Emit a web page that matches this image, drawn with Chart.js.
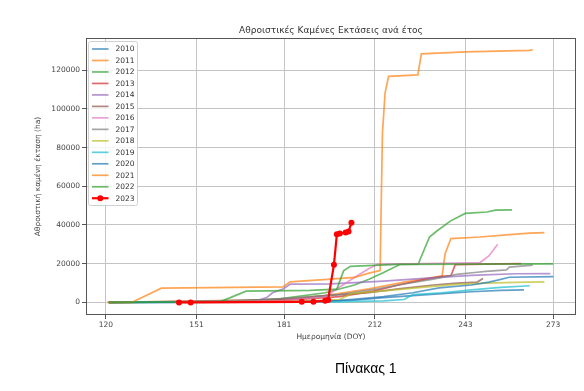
<!DOCTYPE html>
<html>
<head>
<meta charset="utf-8">
<title>Αθροιστικές Καμένες Εκτάσεις ανά έτος</title>
<script src="https://cdn.jsdelivr.net/npm/chart.js"></script>
<style>
  body { margin: 0; background: #fff; }
  #wrap { position: relative; width: 584px; height: 391px; }
  #caption {
    position: absolute; left: 335px; top: 360px;
    font: 14px "Liberation Sans", Arial, sans-serif; color: #000;
  }
</style>
</head>
<body>
<div id="wrap">
  <canvas id="fires" width="584" height="391"></canvas>
  <div id="caption">Πίνακας 1</div>
</div>

<script>
  const chartTitle = 'Αθροιστικές Καμένες Εκτάσεις ανά έτος';
  const xTitle = 'Ημερομηνία (DOY)';
  const yTitle = 'Αθροιστική καμένη έκταση (ha)';

  const years = ['2010', '2011', '2012', '2013', '2014', '2015', '2016',
                 '2017', '2018', '2019', '2020', '2021', '2022', '2023'];
  const xTicks = [120, 151, 181, 212, 243, 273];
  const yTicks = [0, 20000, 40000, 60000, 80000, 100000, 120000];

  // day of year / cumulative burned area (ha)
  const doy2010 = [121, 170, 190, 205, 215, 225, 235, 245, 255, 263];
  const ha2010  = [0, 200, 600, 1200, 2500, 3500, 4500, 5500, 6200, 6500];
  const doy2011 = [121, 180, 195, 210, 222, 232, 235, 236, 238, 248, 258, 265, 270];
  const ha2011  = [0, 1500, 3500, 7000, 10500, 13000, 13700, 25000, 33000, 33800, 35000, 35800, 36100];
  const doy2012 = [121, 165, 180, 195, 205, 210, 215, 220.7, 226.9, 227.5, 230.7, 233.2, 237.8, 242.9, 250.4, 253.2, 258.9];
  const ha2012  = [0, 500, 2000, 5000, 9000, 12000, 15500, 19700, 19800, 22300, 33800, 36900, 42000, 46000, 46700, 47700, 47800];
  const doy2013 = [121, 175, 190, 200, 212, 220, 228, 235, 238, 239.5, 250, 262];
  const ha2013  = [0, 500, 2000, 3000, 6000, 9000, 11500, 13500, 13800, 19500, 19800, 20000];
  const doy2014 = [121, 170, 175, 177, 180.6, 183, 197, 215, 230, 245, 260, 272];
  const ha2014  = [0, 200, 2500, 5000, 6900, 9400, 9600, 11000, 12500, 14000, 14800, 14900];
  const doy2015 = [121, 160, 185, 195, 210, 220, 232, 240, 247, 249];
  const ha2015  = [0, 500, 2000, 3500, 5000, 7000, 9000, 10000, 10500, 12400];
  const doy2016 = [121, 180, 195, 200, 205, 210, 213, 235, 248, 251, 254];
  const ha2016  = [0, 1000, 3000, 8000, 12900, 17500, 19700, 20200, 20600, 24000, 30000];
  const doy2017 = [121, 150, 175, 190, 200, 213, 222, 232, 240, 247, 250, 257, 258, 266];
  const ha2017  = [0, 500, 1500, 3000, 4000, 7000, 9500, 12000, 14500, 15600, 16000, 16800, 18200, 19300];
  const doy2018 = [121, 185, 200, 204, 215, 230, 240, 250, 260, 270];
  const ha2018  = [0, 500, 1500, 4500, 6000, 8000, 9300, 10000, 10400, 10600];
  const doy2019 = [121, 200, 215, 222, 225, 235, 245, 255, 265];
  const ha2019  = [0, 300, 800, 1500, 4000, 5000, 6500, 7800, 8600];
  const doy2020 = [121, 185, 200, 215, 225, 234, 245, 251, 254, 258, 273];
  const ha2020  = [0, 300, 1000, 3000, 5000, 7500, 9000, 10500, 11500, 13000, 13300];
  const doy2021 = [120.5, 128.8, 139, 180.5, 183, 197, 205, 210, 213.8, 214.2, 214.6, 215.5, 216.7, 226.7, 227.9, 243, 265, 266];
  const ha2021  = [0, 0, 7370, 8000, 10600, 12000, 12900, 15100, 16500, 53000, 87600, 108300, 116800, 117500, 128400, 129400, 130200, 130600];
  const doy2022 = [121, 159, 168, 190, 199, 201.3, 203.6, 219.6, 273];
  const ha2022  = [0, 300, 5800, 6200, 6900, 16300, 18600, 19700, 19900];
  const doy2023 = [145, 149, 187, 191, 195, 196, 198, 199, 200, 202, 203, 204];
  const ha2023  = [0, 0, 300, 400, 800, 1300, 19400, 35200, 35600, 36100, 36600, 41200];

  const series = [
    [doy2010, ha2010], [doy2011, ha2011], [doy2012, ha2012], [doy2013, ha2013],
    [doy2014, ha2014], [doy2015, ha2015], [doy2016, ha2016], [doy2017, ha2017],
    [doy2018, ha2018], [doy2019, ha2019], [doy2020, ha2020], [doy2021, ha2021],
    [doy2022, ha2022], [doy2023, ha2023]
  ];

  // matplotlib tab10 cycle, faded like in the picture
  const palette = ['rgba(31,119,180,0.7)', 'rgba(255,127,14,0.7)', 'rgba(44,160,44,0.7)',
                   'rgba(214,39,40,0.7)', 'rgba(148,103,189,0.7)', 'rgba(140,86,75,0.7)',
                   'rgba(227,119,194,0.7)', 'rgba(127,127,127,0.7)', 'rgba(188,189,34,0.7)',
                   'rgba(23,190,207,0.7)'];

  const datasets = years.map((yr, i) => {
    const last = i === years.length - 1;
    const [xs, ys] = series[i];
    return {
      label: yr,
      data: xs.map((d, k) => ({ x: d, y: ys[k] })),
      borderColor: last ? '#ff0000' : palette[i % palette.length],
      backgroundColor: last ? '#ff0000' : palette[i % palette.length],
      borderWidth: last ? 2.2 : 1.7,
      pointRadius: last ? 3 : 0,
      pointBorderWidth: 0,
      tension: 0,
      order: years.length - i   // later years on top, as in matplotlib
    };
  });

  // box round the axes, title, and a legend in the upper-left corner
  const axesDecor = {
    id: 'axesDecor',
    afterDraw(chart) {
      const { ctx, chartArea: a } = chart;
      ctx.save();
      ctx.strokeStyle = '#555';
      ctx.lineWidth = 1;
      ctx.strokeRect(Math.round(a.left) + 0.5, Math.round(a.top) + 0.5,
                     Math.round(a.width) - 1, Math.round(a.height) - 1);

      ctx.fillStyle = '#333';
      ctx.font = '9px "DejaVu Sans"';
      ctx.textAlign = 'center';
      ctx.textBaseline = 'middle';
      ctx.fillText(chartTitle, (a.left + a.right) / 2, a.top - 7);

      const lx = a.left + 2.5, ly = a.top + 3.5;
      ctx.fillStyle = 'rgba(255,255,255,0.85)';
      ctx.strokeStyle = '#d0d0d0';
      ctx.beginPath();
      ctx.roundRect(lx, ly, 49, 164, 2);
      ctx.fill();
      ctx.stroke();

      ctx.font = '7.5px "DejaVu Sans"';
      ctx.textAlign = 'left';
      chart.data.datasets.forEach((ds, i) => {
        const y = ly + 7.5 + i * 11.48;
        ctx.strokeStyle = ds.borderColor;
        ctx.lineWidth = ds.borderWidth;
        ctx.beginPath();
        ctx.moveTo(lx + 3.5, y);
        ctx.lineTo(lx + 20, y);
        ctx.stroke();
        if (ds.pointRadius > 0) {
          ctx.fillStyle = ds.backgroundColor;
          ctx.beginPath();
          ctx.arc(lx + 11.75, y, ds.pointRadius, 0, Math.PI * 2);
          ctx.fill();
        }
        ctx.fillStyle = '#333';
        ctx.fillText(ds.label, lx + 27, y + 0.5);
      });
      ctx.restore();
    }
  };

  Chart.defaults.font.family = '"DejaVu Sans"';
  Chart.defaults.font.size = 7.5;
  Chart.defaults.color = '#444';

  new Chart(document.getElementById('fires'), {
    type: 'line',
    data: { datasets: datasets },
    options: {
      responsive: false,
      animation: false,
      devicePixelRatio: 1,
      layout: { padding: { top: 38, left: 30, right: 8, bottom: 45.6 } },
      plugins: { legend: { display: false }, tooltip: { enabled: false } },
      scales: {
        x: {
          type: 'linear',
          min: 113.2,
          max: 280.8,
          afterBuildTicks: s => { s.ticks = xTicks.map(v => ({ value: v })); },
          afterFit: s => { s.height = 30.4; },
          ticks: { padding: 2, maxRotation: 0 },
          grid: { color: '#c4c4c4', tickColor: '#555', tickLength: 4 },
          border: { display: false },
          title: { display: true, text: xTitle, color: '#444', font: { size: 7.5 } }
        },
        y: {
          type: 'linear',
          min: -6500,
          max: 136600,
          afterBuildTicks: s => { s.ticks = yTicks.map(v => ({ value: v })); },
          afterFit: s => { s.width = 56; },
          ticks: { padding: 2, callback: v => String(v) },
          grid: { color: '#c4c4c4', tickColor: '#555', tickLength: 4 },
          border: { display: false },
          title: { display: true, text: yTitle, color: '#444', font: { size: 7.5 } }
        }
      }
    },
    plugins: [axesDecor]
  });
</script>
</body>
</html>
